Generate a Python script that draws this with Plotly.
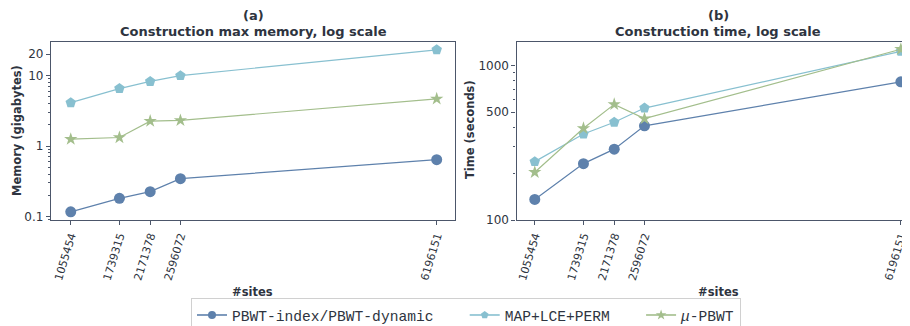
import plotly.graph_objects as go

sites = [1055454, 1739315, 2171378, 2596072, 6196151]
site_labels = [str(s) for s in sites]

series_names = ["PBWT-index/PBWT-dynamic", "MAP+LCE+PERM", "<i>μ</i>-PBWT"]
memory_gb = {
    "PBWT-index/PBWT-dynamic": [0.117, 0.182, 0.226, 0.345, 0.64],
    "MAP+LCE+PERM": [4.1, 6.5, 8.2, 9.9, 23.0],
    "<i>μ</i>-PBWT": [1.25, 1.32, 2.25, 2.3, 4.65],
}
time_s = {
    "PBWT-index/PBWT-dynamic": [136, 232, 288, 408, 787],
    "MAP+LCE+PERM": [239, 361, 430, 532, 1240],
    "<i>μ</i>-PBWT": [204, 393, 562, 454, 1280],
}
legend_pad = ["\u00a0\u00a0\u00a0", "\u00a0\u00a0\u00a0", ""]
colors = ["#5e81ac", "#88c0d0", "#a3be8c"]
symbols = ["circle", "pentagon", "star"]
sizes = [11, 11, 10]
legend_sizes = [8, 8, 8]

TXT = "#2e3440"
AX = "#4c566a"
W, H = 910, 326
OX, OY = 8, 8  # page body margin offset


def px(x):
    return (x - OX) / W


def py(y):
    return 1 - (y - OY) / H


fig = go.Figure()
for i, name in enumerate(series_names):
    fig.add_trace(go.Scatter(
        x=sites, y=memory_gb[name], mode="lines+markers", name=name,
        line=dict(color=colors[i], width=1.2),
        marker=dict(symbol=symbols[i], size=sizes[i], color=colors[i]),
        xaxis="x", yaxis="y", showlegend=False, cliponaxis=False))
for i, name in enumerate(series_names):
    fig.add_trace(go.Scatter(
        x=sites, y=time_s[name], mode="lines+markers", name=name,
        line=dict(color=colors[i], width=1.2),
        marker=dict(symbol=symbols[i], size=sizes[i], color=colors[i]),
        xaxis="x2", yaxis="y2", showlegend=False, cliponaxis=True))
# legend entries (small legend markers, as in the reference)
for i, name in enumerate(series_names):
    fig.add_trace(go.Scatter(
        x=[None], y=[None], mode="lines+markers", name=name + legend_pad[i],
        line=dict(color=colors[i], width=1.6),
        marker=dict(symbol=symbols[i], size=legend_sizes[i], color=colors[i]),
        xaxis="x", yaxis="y", showlegend=True, hoverinfo="skip"))

ydom = [py(220), py(41.7)]
xcommon = dict(
    type="linear", tickmode="array", tickvals=sites, ticktext=site_labels,
    tickangle=-73, ticks="outside", ticklen=4, tickcolor=AX,
    showline=True, linecolor=AX, linewidth=1.3, showgrid=False, zeroline=False,
    tickfont=dict(family="DejaVu Sans", size=11, color=TXT), automargin=False,
)
minor_mem = [v * 10 ** e for e in (-2, -1, 0, 1) for v in range(2, 10)]
minor_time = [v * 10 ** e for e in (2, 3) for v in range(2, 10)]
ycommon = dict(
    type="log", ticks="outside", ticklen=4, tickcolor=AX,
    showline=True, linecolor=AX, linewidth=1.3, showgrid=False, zeroline=False,
    tickfont=dict(family="DejaVu Sans", size=12, color=TXT), automargin=False,
)

fig.update_layout(
    width=W, height=H,
    margin=dict(l=0, r=0, t=0, b=0, autoexpand=False),
    paper_bgcolor="white", plot_bgcolor="white",
    font=dict(family="DejaVu Sans", color=TXT),
    xaxis=dict(domain=[px(51), px(455)], range=[778000, 6453186], mirror=True, **xcommon),
    yaxis=dict(domain=ydom, range=[-1.047, 1.476], tickmode="array",
               tickvals=[0.1, 1, 10, 20], ticktext=["0.1", "1", "10", "20"],
               mirror=True,
               minor=dict(tickmode="array", tickvals=minor_mem, ticks="outside",
                          ticklen=2, tickcolor=AX),
               **ycommon),
    xaxis2=dict(domain=[px(516.5), 1.0], range=[799000, 6437000], mirror=True, anchor="y2", **xcommon),
    yaxis2=dict(domain=ydom, range=[2.0, 3.156], tickmode="array", anchor="x2",
                tickvals=[100, 500, 1000], ticktext=["100", "500", "1000"],
                mirror=False,
                minor=dict(tickmode="array", tickvals=minor_time, ticks="outside",
                           ticklen=2, tickcolor=AX),
                **ycommon),
    legend=dict(
        orientation="h", x=px(466), xanchor="center", y=py(298), yanchor="top",
        bordercolor="#d0d0d0", borderwidth=1, bgcolor="white",
        font=dict(family="Liberation Mono", size=14.6, color=TXT),
        itemwidth=30,
    ),
)


def ann(text, x, y, size, bold=True, angle=0):
    fig.add_annotation(text=f"<b>{text}</b>" if bold else text, x=px(x), y=py(y),
                       xref="paper", yref="paper", showarrow=False, textangle=angle,
                       font=dict(family="DejaVu Sans", size=size, color=TXT),
                       xanchor="center", yanchor="middle")


ann("(a)", 253, 16, 13)
ann("Construction max memory, log scale", 253, 31, 13)
ann("(b)", 718, 16, 13)
ann("Construction time, log scale", 718, 31, 13)
ann("Memory (gigabytes)", 17, 131, 11.5, angle=-90)
ann("Time (seconds)", 470, 130, 11.5, angle=-90)
ann("#sites", 252, 292, 11.5)
ann("#sites", 718, 292, 11.5)

fig.write_html("out.html")
